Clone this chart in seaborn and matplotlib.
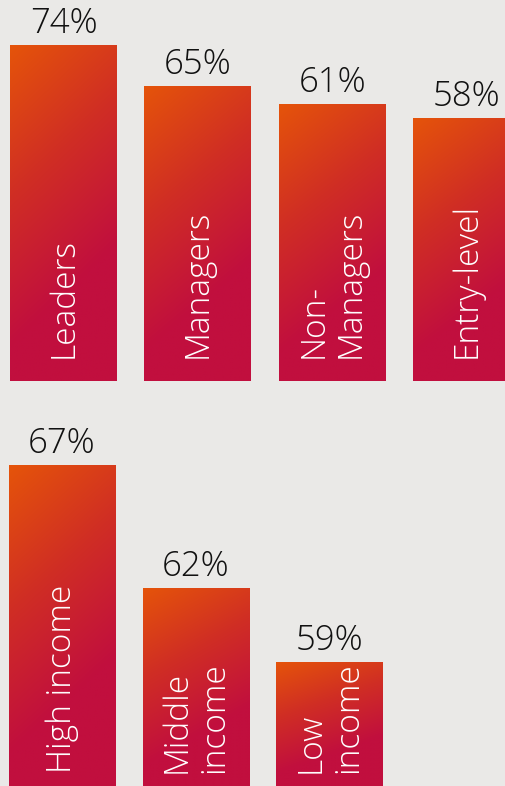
import numpy as np
import pandas as pd
import matplotlib
matplotlib.use("Agg")
import matplotlib.pyplot as plt
import seaborn as sns
from matplotlib.colors import LinearSegmentedColormap

# Share of respondents by role and by household income
roles = ["Leaders", "Managers", "Non-\nManagers", "Entry-level"]
role_share = [74, 65, 61, 58]
incomes = ["High income", "Middle\nincome", "Low\nincome"]
income_share = [67, 62, 59]

BG = "#eae9e7"
TEXT = "#111111"
grad = LinearSegmentedColormap.from_list(
    "ember", [(0.0, "#e5540a"), (0.5, "#d02e24"), (1.0, "#c10f3e")]
)

sns.set_theme(style="white")
plt.rcParams["font.family"] = ["Open Sans", "DejaVu Sans"]

W, H = 505, 786
fig = plt.figure(figsize=(W / 100, H / 100), dpi=100, facecolor=BG)

ax_top = fig.add_axes([0, (H - 381) / H, 1, 381 / H])
ax_bot = fig.add_axes([0, 0, 1, (H - 405) / H])


def gradient_bars(ax, ylim):
    """Replace each bar's flat fill with a diagonal orange-to-crimson gradient."""
    ny, nx = 200, 60
    u = np.linspace(0, 1, ny)[:, None]
    v = np.linspace(0, 1, nx)[None, :]
    t = np.clip((u + 0.3 * v) / 0.9, 0, 1)
    for bar in ax.patches:
        x0, w = bar.get_x(), bar.get_width()
        y0 = max(bar.get_y(), ylim[0])
        y1 = bar.get_y() + bar.get_height()
        im = ax.imshow(t, cmap=grad, vmin=0, vmax=1, aspect="auto",
                       extent=[x0, x0 + w, y0, y1], origin="upper",
                       interpolation="bilinear", zorder=2)
        im.set_clip_path(bar)
        bar.set_facecolor("none")
        bar.set_edgecolor("none")


def panel(ax, cats, vals, xlim, ylim, label_lift):
    df = pd.DataFrame({"cat": cats, "val": vals})
    sns.barplot(data=df, x="cat", y="val", ax=ax, width=0.795,
                color="#c10f3e", saturation=1)
    ax.set_facecolor(BG)
    gradient_bars(ax, ylim)
    ax.set_xlim(*xlim)
    ax.set_ylim(*ylim)
    for i, (c, v) in enumerate(zip(cats, vals)):
        ax.annotate(f"{v}%", xy=(i, v), xytext=(0, 8.6),
                    textcoords="offset points", ha="center", va="baseline",
                    fontsize=25, color=TEXT, fontweight="light", zorder=4)
        ax.annotate(c, xy=(i, 0), xycoords=("data", "axes fraction"),
                    xytext=(0, label_lift), textcoords="offset points",
                    rotation=90, rotation_mode="anchor", ha="left",
                    va="center", multialignment="left", fontsize=24,
                    color="white", fontweight="light", zorder=4,
                    linespacing=1.15, annotation_clip=False)
    ax.set_xticks([])
    ax.set_yticks([])
    ax.set_xlabel("")
    ax.set_ylabel("")
    for s in ax.spines.values():
        s.set_visible(False)


panel(ax_top, roles, role_share, (-0.473, 3.287), (0, 83.9), 16.6)
panel(ax_bot, incomes, income_share, (-0.4636, 3.312), (53.95, 69.44), 9.4)

fig.savefig("out.png", dpi=100, facecolor=BG)
